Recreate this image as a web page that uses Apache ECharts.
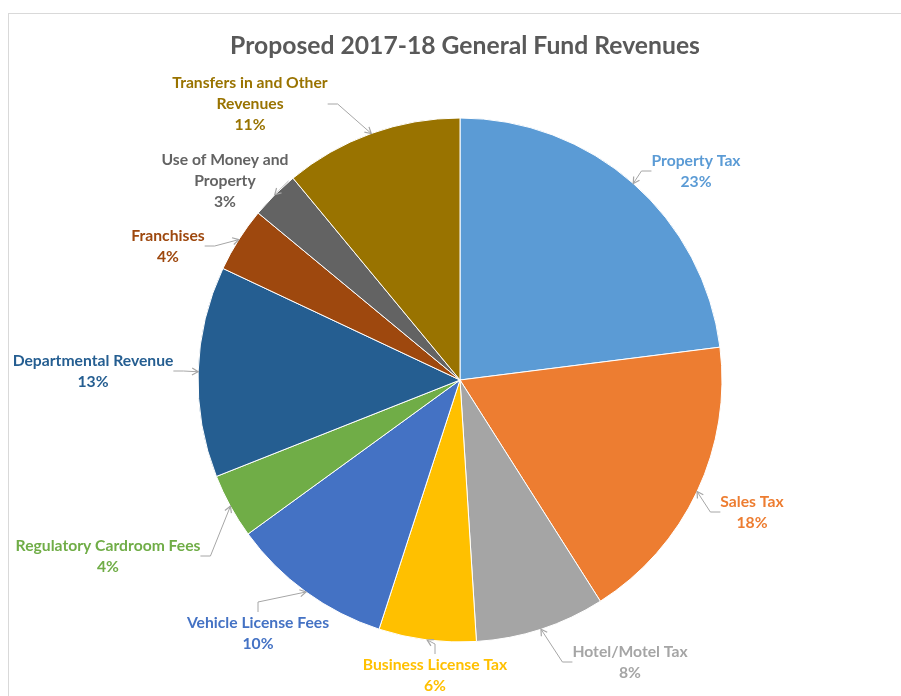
<!DOCTYPE html>
<html>
<head>
<meta charset="utf-8">
<script src="https://cdn.jsdelivr.net/npm/echarts@6/dist/echarts.min.js"></script>
<style>
  html, body { margin: 0; padding: 0; background: #fff; }
  #frame { position: absolute; left: 8px; top: 13px; width: 900px; height: 700px;
           border-top: 1px solid #d9d9d9; border-left: 1px solid #d9d9d9; }
  #chart { position: absolute; left: 0; top: 0; width: 901px; height: 696px; }
</style>
</head>
<body>
<div id="frame"></div>
<div id="chart"></div>
<script>
// Revenue categories, clockwise from 12 o'clock
const categories = [
  'Property Tax',
  'Sales Tax',
  'Hotel/Motel Tax',
  'Business License Tax',
  'Vehicle License Fees',
  'Regulatory Cardroom Fees',
  'Departmental Revenue',
  'Franchises',
  'Use of Money and Property',
  'Transfers in and Other Revenues'
];
// Share of the general fund, percent
const shares = [23, 18, 8, 6, 10, 4, 13, 4, 3, 11];

const sliceColors = ['#5B9BD5', '#ED7D31', '#A5A5A5', '#FFC000', '#4472C4',
                     '#70AD47', '#255E91', '#9E480E', '#636363', '#997300'];

// Line breaks used when a label name is too long for one line
const wrapped = {
  'Use of Money and Property': 'Use of Money and\nProperty',
  'Transfers in and Other Revenues': 'Transfers in and Other\nRevenues'
};

// Where each label block sits (centre of the text)
const labelSpots = [
  [696, 171], [752, 512], [630, 662], [435, 675], [258, 633],
  [108, 556], [93, 371], [168, 246], [225, 181], [250, 104]
];

const chart = echarts.init(document.getElementById('chart'), null, { renderer: 'canvas' });

chart.setOption({
  animation: false,
  title: {
    text: 'Proposed 2017-18 General Fund Revenues',
    left: 460,
    textAlign: 'center',
    top: 29,
    textStyle: { fontFamily: 'Lato', fontSize: 24.7, fontWeight: 'bold', color: '#595959' }
  },
  series: [{
    type: 'pie',
    center: [460, 380],
    radius: 262,
    startAngle: 90,
    clockwise: true,
    avoidLabelOverlap: false,
    itemStyle: { borderColor: '#ffffff', borderWidth: 1 },
    data: categories.map((name, i) => ({
      name: name,
      value: shares[i],
      itemStyle: { color: sliceColors[i] },
      label: { color: sliceColors[i] }
    })),
    label: {
      show: true,
      position: 'outside',
      fontFamily: 'Lato',
      fontWeight: 'bold',
      fontSize: 15.7,
      lineHeight: 21,
      align: 'center',
      formatter: p => (wrapped[p.name] || p.name) + '\n' + p.value + '%'
    },
    labelLine: {
      show: true,
      length: 10,
      length2: 10,
      lineStyle: { color: '#A6A6A6', width: 1 }
    },
    labelLayout: p => ({
      x: labelSpots[p.dataIndex][0],
      y: labelSpots[p.dataIndex][1],
      align: 'center',
      verticalAlign: 'middle'
    })
  }]
});

// Open arrowheads at the pie end of every leader line, following the line's direction
function addArrowHeads() {
  const seriesModel = chart.getModel().getSeriesByIndex(0);
  const data = seriesModel.getData();
  const heads = [];
  data.each(idx => {
    const el = data.getItemGraphicEl(idx);
    const guide = el && el.getTextGuideLine && el.getTextGuideLine();
    if (!guide || !guide.shape || !guide.shape.points) return;
    const pts = guide.shape.points;
    const tip = pts[0];
    const from = pts[1];
    const ang = Math.atan2(tip[1] - from[1], tip[0] - from[0]);
    const len = 7, spread = Math.PI / 6;
    heads.push({
      type: 'polyline',
      silent: true,
      shape: {
        points: [
          [tip[0] - len * Math.cos(ang - spread), tip[1] - len * Math.sin(ang - spread)],
          [tip[0], tip[1]],
          [tip[0] - len * Math.cos(ang + spread), tip[1] - len * Math.sin(ang + spread)]
        ]
      },
      style: { stroke: '#A6A6A6', lineWidth: 1.2, fill: null },
      z: 10
    });
  });
  chart.setOption({ graphic: heads });
}
addArrowHeads();
</script>
</body>
</html>
